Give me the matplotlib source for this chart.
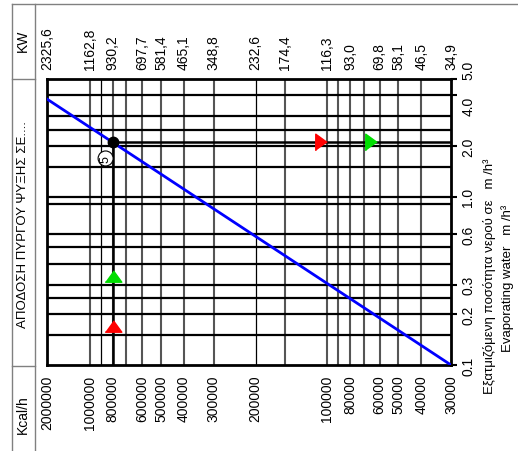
import numpy as np
import matplotlib.pyplot as plt
from matplotlib.lines import Line2D
from matplotlib.ticker import NullLocator

plt.rcParams['font.family'] = ['Liberation Sans', 'DejaVu Sans']

# bottom axis: Kcal/h
kcal_ticks = [2000000, 1000000, 800000, 600000, 500000, 400000, 300000,
              200000, 100000, 80000, 60000, 50000, 40000, 30000]
kcal_labels = [str(v) for v in kcal_ticks]
# top axis: KW
kw_ticks = [2000000, 1000000, 800000, 600000, 500000, 400000, 300000,
            200000, 150000, 100000, 80000, 60000, 50000, 40000, 30000]
kw_labels = ['2325,6', '1162,8', '930,2', '697,7', '581,4', '465,1', '348,8',
             '232,6', '174,4', '116,3', '93,0', '69,8', '58,1', '46,5', '34,9']
kcal_grid = [1e6, 9e5, 8e5, 7e5, 6e5, 5e5, 4e5, 3e5, 2e5, 1.5e5,
             1e5, 9e4, 8e4, 7e4, 6e4, 5e4, 4e4]
kcal_thin = [9e5, 2e5]

# right axis: evaporating water m3/h
water_ticks = [5.0, 4.0, 2.0, 1.0, 0.6, 0.3, 0.2, 0.1]
water_labels = ['5.0', '4.0', '2.0', '1.0', '0.6', '0.3', '0.2', '0.1']
water_grid = [4.0, 3.0, 2.5, 2.0, 1.5, 1.0, 0.9, 0.6, 0.5, 0.4, 0.3, 0.25, 0.2, 0.15]

# blue curve and operating point
line_kcal = [2000000, 30000]
line_water = [3.8, 0.1]
op_kcal = 800000
op_water = 2.11
up_kcal = [800000, 800000]
up_water = [0.17, 0.34]
right_kcal = [106000, 65500]
right_water = [2.11, 2.11]
mark_colors = ['#ff0000', '#00dd00']
label_kcal = 857000
label_water = 1.686

# the 1e6..2e6 decade is squeezed on the original sheet
squeeze = 0.598

def fwd(x):
    lx = np.log10(np.maximum(np.asarray(x, dtype=float), 1e-12))
    return np.where(lx > 6, 6 + (lx - 6) * squeeze, lx)

def inv(y):
    y = np.asarray(y, dtype=float)
    return np.where(y > 6, 10 ** (6 + (y - 6) / squeeze), 10 ** y)

W, H = 518, 452
fig = plt.figure(figsize=(W / 100, H / 100), dpi=100)
ax = fig.add_axes([47 / W, 1 - 366 / H, 404 / W, 286 / H])

ax.set_xscale('function', functions=(fwd, inv))
ax.set_xlim(kcal_ticks[0], kcal_ticks[-1])
ax.set_yscale('log')
ax.set_ylim(water_ticks[-1], water_ticks[0])

for v in kcal_grid:
    if v in kcal_thin:
        ax.axvline(v, color='black', lw=0.9, zorder=1)
    else:
        ax.axvline(v, color='#555555', lw=1.5, zorder=1)
for v in water_grid:
    ax.axhline(v, color='black', lw=1.6, zorder=1)

ax.plot(line_kcal, line_water, color='#0000ff', lw=2, zorder=3)
ax.vlines(op_kcal, water_ticks[-1], op_water, color='black', lw=1.8, zorder=4)
ax.hlines(op_water, op_kcal, kcal_ticks[-1], color='black', lw=1.8, zorder=4)
ax.plot(op_kcal, op_water, 'o', color='black', ms=7.5, zorder=5)

up_m = [(-8, -5.5), (8, -5.5), (0, 5.5)]
right_m = [(-5.5, -8), (-5.5, 8), (5.5, 0)]
for k, w, c in zip(up_kcal, up_water, mark_colors):
    ax.plot(k, w, marker=up_m, color=c, ms=12, ls='none', zorder=6)
for k, w, c in zip(right_kcal, right_water, mark_colors):
    ax.plot(k, w, marker=right_m, color=c, ms=12, ls='none', zorder=6)

ax.text(label_kcal, label_water, '5', rotation=90, ha='center', va='center',
        fontsize=9, zorder=6,
        bbox=dict(boxstyle='circle,pad=0.12', fc='white', ec='black', lw=0.8))

ax.set_xticks(kcal_ticks, kcal_labels, rotation=90)
ax.xaxis.set_minor_locator(NullLocator())
ax.tick_params(axis='x', length=0, pad=7, labelsize=10)

ax.yaxis.tick_right()
ax.set_yticks(water_ticks, water_labels, rotation=90, va='center')
ax.yaxis.set_minor_locator(NullLocator())
ax.tick_params(axis='y', which='major', direction='out', length=4.5,
               width=1.5, pad=3, labelsize=10)
ylabs = ax.get_yticklabels()
ylabs[0].set_va('bottom')
ylabs[1].set_va('top')
for s in ax.spines.values():
    s.set_linewidth(2)

ax2 = ax.twiny()
ax2.set_xscale('function', functions=(fwd, inv))
ax2.set_xlim(kcal_ticks[0], kcal_ticks[-1])
ax2.set_xticks(kw_ticks, kw_labels, rotation=90)
ax2.xaxis.set_minor_locator(NullLocator())
ax2.tick_params(axis='x', length=0, pad=7, labelsize=10)
for s in ax2.spines.values():
    s.set_visible(False)

# left header column
grey = '#808080'
fig.add_artist(Line2D([12 / W, 1], [1 - 5 / H, 1 - 5 / H], color=grey, lw=1))
fig.add_artist(Line2D([12 / W, 12 / W], [0, 1 - 5 / H], color=grey, lw=1))
fig.add_artist(Line2D([35 / W, 35 / W], [0, 1 - 5 / H], color=grey, lw=1))
fig.add_artist(Line2D([12 / W, 35 / W], [1 - 80 / H, 1 - 80 / H], color=grey, lw=1))
fig.add_artist(Line2D([12 / W, 35 / W], [1 - 367 / H, 1 - 367 / H], color=grey, lw=1))

fig.text(23 / W, 1 - 41 / H, 'KW', rotation=90, ha='center', va='center', fontsize=10)
fig.text(23 / W, 1 - 225 / H, 'ΑΠΟΔΟΣΗ ΠΥΡΓΟΥ ΨΥΞΗΣ ΣΕ....', rotation=90,
         ha='center', va='center', fontsize=9.5)
fig.text(23 / W, 1 - 415 / H, 'Kcal/h', rotation=90, ha='center', va='center', fontsize=10)

fig.text(489 / W, 1 - 276 / H, 'Εξατμιζόμενη ποσότητα νερού σε   m /h³',
         rotation=90, ha='center', va='center', fontsize=9.5)
fig.text(508 / W, 1 - 278 / H, 'Evaporating water   m /h³',
         rotation=90, ha='center', va='center', fontsize=9.5)

fig.savefig('out.png', dpi=100)
